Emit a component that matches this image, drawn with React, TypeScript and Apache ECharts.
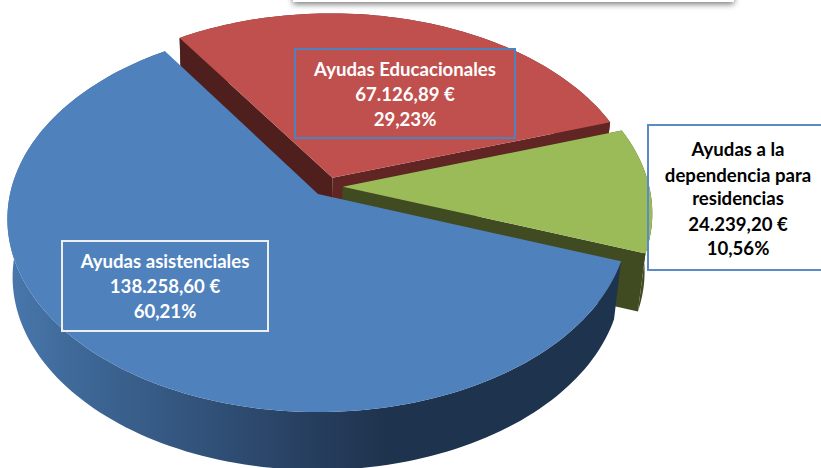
import React, { useEffect, useRef } from "react";
import * as echarts from "echarts";

const categories = ["Ayudas Educacionales", "Ayudas a la dependencia para residencias", "Ayudas asistenciales"];
const values = [67126.89, 24239.2, 138258.6];
const amountLabels = ["67.126,89 €", "24.239,20 €", "138.258,60 €"];
const percentLabels = ["29,23%", "10,56%", "60,21%"];
const topColors = ["#c0504d", "#9bbb59", "#4f81bd"];
const cutColors = ["#4e1f1d", "#404b22", "#1e334d"];
const endColors = ["#612624", "#404b22", "#1e334d"];

const FIRST_ANGLE = 326.6;
const EXPLODE = 0.05;
const P = 0.13;
const X0 = 318, Y0 = 194, AX = 308, BY = 189.7, DEPTH = 58, BOTTOM_SCALE = 0.98, BOTTOM_SHIFT = -1;
const FONT = "Lato, Carlito, sans-serif";

const total = values.reduce((a, b) => a + b, 0);
const rad = (d: number) => (d * Math.PI) / 180;
const spans = values.map((_, i) => {
  const before = values.slice(0, i).reduce((a, b) => a + b, 0);
  const start = FIRST_ANGLE + (before / total) * 360;
  return { start, end: start + (values[i] / total) * 360 };
});
const dir = (a: number) => [Math.sin(rad(a)), -Math.cos(rad(a))];
const mid = (i: number) => (spans[i].start + spans[i].end) / 2;
const offset = (i: number) => {
  const d = dir(mid(i));
  const b = dir(mid(2));
  return [EXPLODE * (d[0] - b[0]), EXPLODE * (d[1] - b[1])];
};
const project = (x: number, y: number, bottom: boolean) => {
  const r = 1 - P * y;
  const s = bottom ? BOTTOM_SCALE : 1;
  return [X0 + (bottom ? BOTTOM_SHIFT : 0) + (s * AX * x) / r, Y0 + (bottom ? DEPTH : 0) + (BY * y) / r];
};
const rim = (i: number, a: number, bottom: boolean) => {
  const o = offset(i);
  const d = dir(a);
  return project(o[0] + d[0], o[1] + d[1], bottom);
};
const apex = (i: number, bottom: boolean) => {
  const o = offset(i);
  return project(o[0], o[1], bottom);
};
const arc = (i: number, from: number, to: number, bottom: boolean) => {
  const n = Math.max(2, Math.ceil(Math.abs(to - from) / 1.5));
  const pts: number[][] = [];
  for (let k = 0; k <= n; k++) pts.push(rim(i, from + ((to - from) * k) / n, bottom));
  return pts;
};
const sideFill = new echarts.graphic.LinearGradient(0, 0, 1, 0, [
  { offset: 0, color: "#4a78ad" },
  { offset: 0.1, color: "#3f6a9a" },
  { offset: 0.5, color: "#263e5e" },
  { offset: 0.62, color: "#1e334d" },
  { offset: 1, color: "#1e334d" },
]);

function renderSlice(params: any, api: any) {
  const i = params.dataIndex;
  api.value(1);
  const { start, end } = spans[i];
  const poly = (points: number[][], fill: any) => ({
    type: "polygon",
    shape: { points },
    style: { fill, stroke: null },
  });
  const children: any[] = [];
  children.push(
    poly(
      [...arc(i, start, end, false), ...arc(i, end, start, true)],
      i === 2 ? sideFill : endColors[i],
    ),
  );
  if (i !== 2) {
    children.push(poly([apex(i, false), rim(i, end, false), rim(i, end, true), apex(i, true)], endColors[i]));
    children.push(poly([apex(i, false), rim(i, start, false), rim(i, start, true), apex(i, true)], cutColors[i]));
  }
  children.push(poly([apex(i, false), ...arc(i, start, end, false)], topColors[i]));
  return { type: "group", children };
}

const textEl = (text: string, cx: number, y: number, fill: string) => ({
  type: "text",
  z: 20,
  x: cx,
  y,
  style: { text, fill, font: `bold 18.6px ${FONT}`, align: "center", verticalAlign: "middle" },
});
const boxEl = (x: number, y: number, width: number, height: number, stroke: string) => ({
  type: "rect",
  z: 10,
  shape: { x, y, width, height },
  style: { fill: "transparent", stroke, lineWidth: 2 },
});

export default function App() {
  const ref = useRef<HTMLDivElement>(null);
  useEffect(() => {
    const chart = echarts.init(ref.current!, null, { renderer: "svg" });
    chart.setOption({
      animation: false,
      backgroundColor: "#ffffff",
      series: [
        {
          type: "custom",
          coordinateSystem: "none",
          silent: true,
          z: 5,
          renderItem: renderSlice,
          data: values.map((v, i) => ({ name: categories[i], value: [i, v] })),
        },
      ],
      graphic: [
        {
          type: "rect",
          z: 1,
          shape: { x: 293, y: -30, width: 441, height: 32 },
          style: { fill: "#ffffff", shadowBlur: 6, shadowColor: "rgba(0,0,0,0.55)", shadowOffsetY: 2 },
        },
        boxEl(295, 49, 220, 89, "#4f81bd"),
        textEl(categories[0], 405, 69, "#ffffff"),
        textEl(amountLabels[0], 405, 94, "#ffffff"),
        textEl(percentLabels[0], 405, 119, "#ffffff"),
        boxEl(648, 125, 190, 145, "#5b8bc4"),
        textEl("Ayudas a la", 738, 149, "#000000"),
        textEl("dependencia para", 738, 175, "#000000"),
        textEl("residencias", 738, 198, "#000000"),
        textEl(amountLabels[1], 738, 224, "#000000"),
        textEl(percentLabels[1], 738, 248, "#000000"),
        boxEl(62, 241, 206, 90, "#eeeeee"),
        textEl(categories[2], 165, 261, "#ffffff"),
        textEl(amountLabels[2], 165, 286, "#ffffff"),
        textEl(percentLabels[2], 165, 311, "#ffffff"),
      ],
    });
    return () => chart.dispose();
  }, []);
  return <div ref={ref} style={{ position: "fixed", left: 0, top: 0, width: 821, height: 468 }} />;
}
